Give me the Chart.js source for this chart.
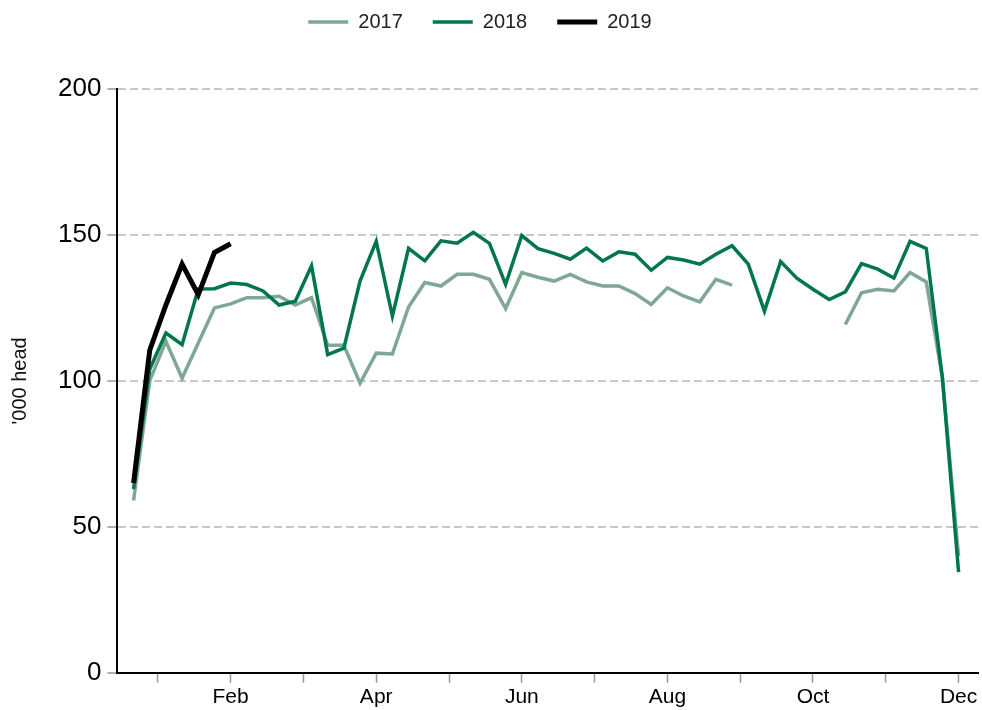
<!DOCTYPE html>
<html>
<head>
<meta charset="utf-8">
<script src="https://cdn.jsdelivr.net/npm/chart.js@4"></script>
<style>
  body { margin: 0; background: #fff; }
  #wrap { width: 982px; height: 710px; }
</style>
</head>
<body>
<div id="wrap"><canvas id="lineChart"></canvas></div>
<script>
// weekly slaughterings, '000 head
const weeks = Array.from({ length: 52 }, (_, i) => i + 1);

// month tick positions (in weeks) and their labels
const monthTicks = [2.5, 7, 11.5, 16, 20.5, 25, 29.5, 34, 38.5, 43, 47.5, 52];
const tickLabels = ['', 'Feb', '', 'Apr', '', 'Jun', '', 'Aug', '', 'Oct', '', 'Dec'];
const yTicks = [0, 50, 100, 150, 200];

const head2017 = [
  59, 100, 113.6, 100.9, 113, 125, 126.4, 128.5, 128.5, 129, 126, 128.5,
  112.2, 112.2, 99.2, 109.5, 109.2, 125.3, 133.7, 132.5, 136.5, 136.5, 134.8, 124.8, 137.1, 135.5,
  134.2, 136.5, 133.9, 132.5, 132.5, 129.9, 126.2, 131.9, 129.1, 127.1, 134.8, 132.8,
  null, null, null, null, null, null,
  119.3, 130.2, 131.4, 130.8, 137.1, 133.9, 101, 40
];
const head2018 = [
  63, 104, 116.4, 112.4, 131.5, 131.6, 133.5, 133, 130.8, 126, 127.3, 139.4,
  109, 111.2, 134.2, 147.8, 122.2, 145.4, 141.1, 148, 147.2, 150.9, 147.1, 133.1, 149.8, 145.3,
  143.7, 141.7, 145.5, 141.1, 144.2, 143.4, 137.9, 142.3, 141.4, 140, 143.4, 146.3,
  140, 123.9, 140.9, 135.2, 131.4, 127.9, 130.5, 140.2, 138.3, 135.2, 147.8, 145.4, 101, 34.5
];
const head2019 = [65, 110.5, 126, 140, 129.5, 144, 147];

function toPoints(values) {
  return values.map((v, i) => ({ x: weeks[i], y: v }));
}

Chart.defaults.font.family = "'Liberation Sans', Arial, sans-serif";
Chart.defaults.color = '#000';

// push the plot down below the legend, nudge legend a bit left
const legendGap = {
  id: 'legendGap',
  beforeInit(chart) {
    const fit = chart.legend.fit;
    chart.legend.fit = function () {
      fit.bind(chart.legend)();
      this.height += 47;
    };
  },
  afterLayout(chart) {
    chart.legend.left -= 12;
    chart.legend.right -= 12;
  }
};

const ctx = document.getElementById('lineChart').getContext('2d');
new Chart(ctx, {
  type: 'line',
  data: {
    datasets: [{
      label: '2017',
      data: toPoints(head2017),
      borderColor: '#7ea894',
      borderWidth: 3.5,
      order: 2
    }, {
      label: '2018',
      data: toPoints(head2018),
      borderColor: '#00764a',
      borderWidth: 3.5,
      order: 1
    }, {
      label: '2019',
      data: toPoints(head2019),
      borderColor: '#000000',
      borderWidth: 5,
      order: 0
    }]
  },
  options: {
    responsive: true,
    maintainAspectRatio: false,
    animation: false,
    elements: {
      point: { radius: 0 },
      line: { tension: 0 }
    },
    layout: { padding: { top: -18, left: 6, right: 4, bottom: -2 } },
    plugins: {
      legend: {
        position: 'top',
        reverse: true,
        labels: {
          usePointStyle: true,
          pointStyle: 'line',
          pointStyleWidth: 40,
          padding: 30,
          color: '#222',
          font: { size: 20 }
        }
      },
      tooltip: { enabled: false }
    },
    scales: {
      x: {
        type: 'linear',
        min: 0,
        max: 53.2,
        afterBuildTicks: s => { s.ticks = monthTicks.map(v => ({ value: v })); },
        ticks: {
          autoSkip: false,
          maxRotation: 0,
          padding: 2,
          font: { size: 21 },
          callback: (v, i) => tickLabels[i]
        },
        grid: { drawOnChartArea: false, tickColor: '#999', tickLength: 10, tickWidth: 1.5 },
        border: { color: '#000', width: 2 }
      },
      y: {
        min: 0,
        max: 200,
        afterBuildTicks: s => { s.ticks = yTicks.map(v => ({ value: v })); },
        ticks: { padding: 6, font: { size: 26 } },
        grid: { color: '#c8c8c8', lineWidth: 2, tickColor: '#999', tickLength: 10, tickWidth: 1.5 },
        border: { color: '#000', width: 2, dash: [8, 4] },
        title: {
          display: true,
          text: "'000 head",
          color: '#111',
          font: { size: 20 },
          padding: { top: 2, bottom: 20 }
        }
      }
    }
  },
  plugins: [legendGap]
});
</script>
</body>
</html>
